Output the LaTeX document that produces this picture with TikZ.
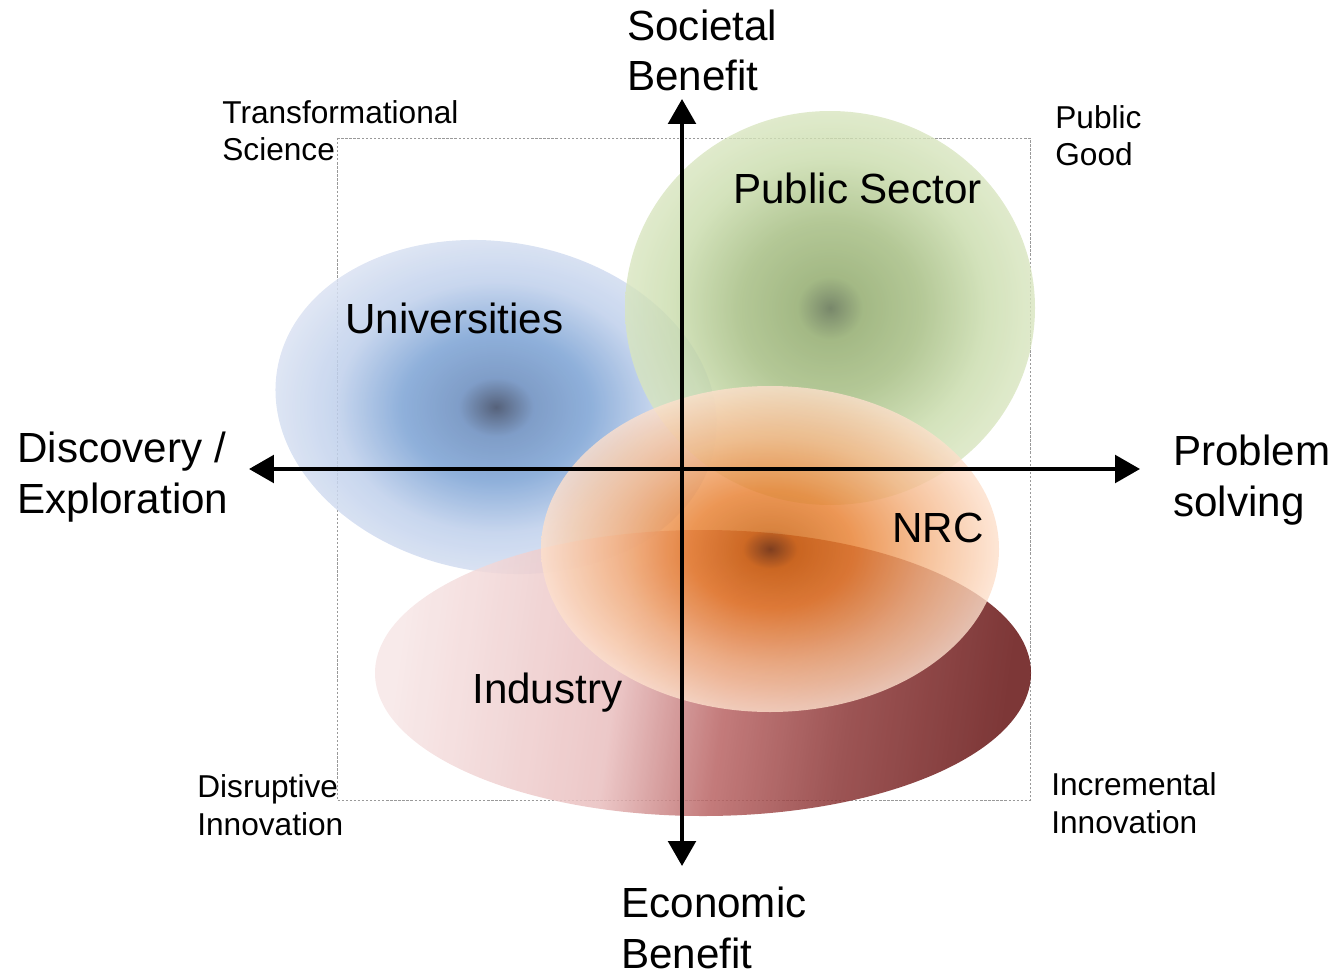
\documentclass[tikz,border=0pt]{standalone}
\usepackage{fontspec}
\setmainfont{Liberation Sans}
\usetikzlibrary{arrows.meta}

% colours of the four sectors
\definecolor{uniCore}{RGB}{56,70,99}
\definecolor{uniDeep}{RGB}{105,140,190}
\definecolor{uniMid}{RGB}{123,162,212}
\definecolor{uniPale}{RGB}{190,207,235}
\definecolor{uniEdge}{RGB}{221,228,243}
\definecolor{pubCore}{RGB}{86,105,69}
\definecolor{pubDeep}{RGB}{140,167,102}
\definecolor{pubMid}{RGB}{161,186,124}
\definecolor{pubPale}{RGB}{200,219,170}
\definecolor{pubEdge}{RGB}{216,229,191}
\definecolor{nrcCore}{RGB}{111,49,11}
\definecolor{nrcDeep}{RGB}{207,100,15}
\definecolor{nrcMid}{RGB}{231,124,42}
\definecolor{nrcPale}{RGB}{244,179,130}
\definecolor{nrcEdge}{RGB}{253,224,204}
\definecolor{indLeft}{RGB}{247,230,230}
\definecolor{indPink}{RGB}{233,190,190}
\definecolor{indRose}{RGB}{185,100,100}
\definecolor{indDeep}{RGB}{140,55,55}
\definecolor{indRight}{RGB}{102,20,20}

\pgfdeclareradialshading{uniglow}{\pgfpointorigin}{color(0bp)=(uniCore); color(4bp)=(uniDeep); color(10bp)=(uniMid); color(17bp)=(uniPale); color(25bp)=(uniEdge); color(50bp)=(uniEdge)}
\pgfdeclareradialshading{pubglow}{\pgfpointorigin}{color(0bp)=(pubCore); color(4bp)=(pubDeep); color(11bp)=(pubMid); color(19bp)=(pubPale); color(25bp)=(pubEdge); color(50bp)=(pubEdge)}
\pgfdeclareradialshading{nrcglow}{\pgfpointorigin}{color(0bp)=(nrcCore); color(3bp)=(nrcDeep); color(9bp)=(nrcMid); color(17bp)=(nrcPale); color(25bp)=(nrcEdge); color(50bp)=(nrcEdge)}
\pgfdeclarehorizontalshading{indfade}{100bp}{color(0bp)=(indLeft); color(25bp)=(indLeft); color(43bp)=(indPink); color(52bp)=(indRose); color(62bp)=(indDeep); color(75bp)=(indRight); color(100bp)=(indRight)}

\begin{document}
\begin{tikzpicture}[x=0.02cm, y=-0.02cm,
  big/.style={font=\fontsize{24}{28.5}\selectfont, align=left, inner sep=0pt, anchor=base west},
  small/.style={font=\fontsize{18}{21.6}\selectfont, align=left, inner sep=0pt, anchor=base west},
  axis/.style={line width=2.3pt, {Triangle[length=0.5cm,width=0.55cm]}-{Triangle[length=0.5cm,width=0.55cm]}}]
\useasboundingbox (0,0) rectangle (1334,973);

% frame of the chart
\draw [gray!80, line width=0.5pt, dash pattern=on 1.3pt off 1pt] (337,138) rectangle (1030,800);

% the four sectors
\path [shading=uniglow, fill opacity=0.85, rotate around={-10:(496,407)}] (496,407) ellipse [x radius=222, y radius=165];
\path [shading=pubglow, fill opacity=0.8] (830,308) ellipse [x radius=205, y radius=197];
\path [shading=indfade, shading angle=-8, fill opacity=0.85] (703,673) ellipse [x radius=328, y radius=143];
\path [shading=nrcglow, fill opacity=0.8] (770,549) ellipse [x radius=229, y radius=163];

% axes
\coordinate (west) at (249,469);
\coordinate (east) at (1140,469);
\coordinate (north) at (682,99);
\coordinate (south) at (682,866);
\draw [axis] (west) -- (east);
\draw [axis] (south) -- (north);

% axis labels (base = last line)
\node [big] (societal) at (627,91) {Societal\\Benefit};
\node [big] (economic) at (621,968) {Economic\\Benefit};
\node [big] (discovery) at (17,513) {Discovery /\\Exploration};
\node [big] (problem) at (1173,516) {Problem\\solving};

% corner labels
\node [small] (transform) at (222,161) {Transformational\\Science};
\node [small] (publicgood) at (1055,166) {Public\\Good};
\node [small] (disruptive) at (197,835) {Disruptive\\Innovation};
\node [small] (incremental) at (1051,833) {Incremental\\Innovation};

% sector labels
\node [big] (univ) at (345,333) {Universities};
\node [big] (pubsec) at (733,203) {Public Sector};
\node [big] (nrc) at (892,542) {NRC};
\node [big] (industry) at (472,703) {Industry};
\end{tikzpicture}
\end{document}
